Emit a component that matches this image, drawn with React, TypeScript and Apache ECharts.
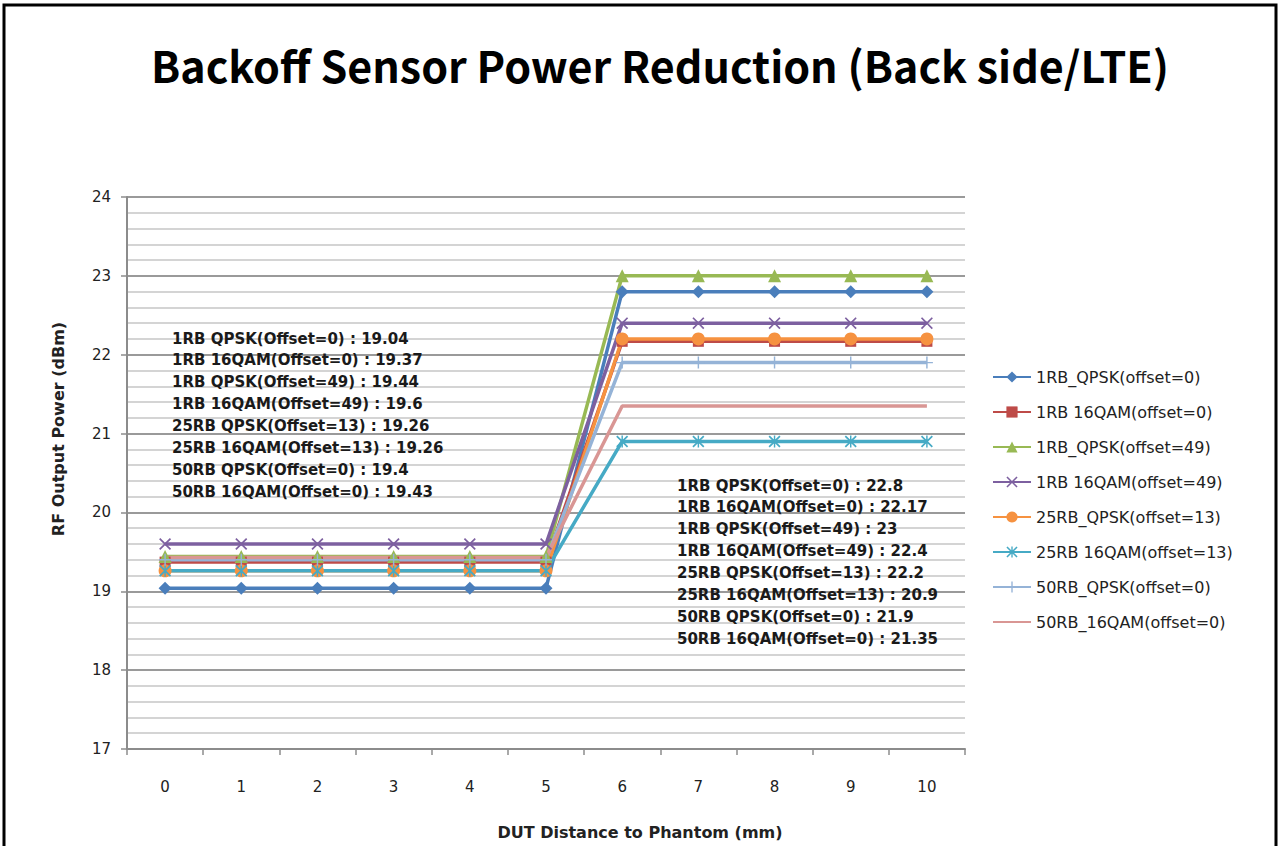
import React, { useEffect, useRef } from "react";
import * as echarts from "echarts";

const categories = ["0", "1", "2", "3", "4", "5", "6", "7", "8", "9", "10"];

const seriesNames = [
  "1RB_QPSK(offset=0)",
  "1RB 16QAM(offset=0)",
  "1RB_QPSK(offset=49)",
  "1RB 16QAM(offset=49)",
  "25RB_QPSK(offset=13)",
  "25RB 16QAM(offset=13)",
  "50RB_QPSK(offset=0)",
  "50RB_16QAM(offset=0)",
];

const annotationNames = [
  "1RB QPSK(Offset=0)",
  "1RB 16QAM(Offset=0)",
  "1RB QPSK(Offset=49)",
  "1RB 16QAM(Offset=49)",
  "25RB QPSK(Offset=13)",
  "25RB 16QAM(Offset=13)",
  "50RB QPSK(Offset=0)",
  "50RB 16QAM(Offset=0)",
];

const lowValues = [19.04, 19.37, 19.44, 19.6, 19.26, 19.26, 19.4, 19.43];
const highValues = [22.8, 22.17, 23, 22.4, 22.2, 20.9, 21.9, 21.35];
const lowCount = 6; // distances 0..5 use low value, 6..10 use high value

const titleText = "Backoff Sensor Power Reduction (Back side/LTE)";
const xAxisTitle = "DUT Distance to Phantom (mm)";
const yAxisTitle = "RF Output Power (dBm)";

const colors = ["#4A7EBB", "#BE4B48", "#98B954", "#7D60A0", "#F69240", "#46AAC5", "#95B3D7", "#D99694"];

const xPath = "path://M0,1 L1,0 L5,4 L9,0 L10,1 L6,5 L10,9 L9,10 L5,6 L1,10 L0,9 L4,5 Z";
const starPath =
  "path://M0,1 L1,0 L5,4 L9,0 L10,1 L6,5 L10,9 L9,10 L5,6 L1,10 L0,9 L4,5 Z M4.4,0 L5.6,0 L5.6,10 L4.4,10 Z";
const plusPath = "path://M4.4,0 L5.6,0 L5.6,4.4 L10,4.4 L10,5.6 L5.6,5.6 L5.6,10 L4.4,10 L4.4,5.6 L0,5.6 L0,4.4 L4.4,4.4 Z";
const symbols = ["diamond", "rect", "triangle", xPath, "circle", starPath, plusPath, "none"];
const symbolSizes = [13, 11, 13, 12, 13, 12, 12, 0];

export default function App() {
  const ref = useRef<HTMLDivElement>(null);
  useEffect(() => {
    if (!ref.current) return;
    const chart = echarts.init(ref.current, undefined, { renderer: "svg" });

    const series = seriesNames.map((name, i) => ({
      name,
      type: "line",
      data: categories.map((_, k) => (k < lowCount ? lowValues[i] : highValues[i])),
      symbol: symbols[i],
      symbolSize: symbolSizes[i],
      showSymbol: symbols[i] !== "none",
      lineStyle: { width: 3.5, color: colors[i] },
      itemStyle: { color: colors[i] },
      z: 3,
    }));

    const annoFont = "bold 15px 'DejaVu Sans', sans-serif";
    const leftAnno = annotationNames.map((n, i) => ({
      type: "text",
      left: 172,
      top: 331 + i * 21.9,
      style: { text: `${n} : ${lowValues[i]}`, font: annoFont, fill: "#1a1a1a" },
      z: 10,
    }));
    const rightAnno = annotationNames.map((n, i) => ({
      type: "text",
      left: 677,
      top: 478 + i * 21.9,
      style: { text: `${n} : ${highValues[i]}`, font: annoFont, fill: "#1a1a1a" },
      z: 10,
    }));

    const legendData = seriesNames.map((name, i) =>
      symbols[i] === "none" ? { name, itemStyle: { opacity: 0 } } : { name }
    );

    const nameFont = "bold 16px 'DejaVu Sans', sans-serif";

    chart.setOption({
      animation: false,
      backgroundColor: "#ffffff",
      color: colors,
      grid: { left: 127, top: 197, right: 317, bottom: 97, containLabel: false },
      legend: {
        orient: "vertical",
        left: 987,
        top: 364,
        itemWidth: 38,
        itemHeight: 14,
        itemGap: 19,
        textStyle: { fontFamily: "'DejaVu Sans', sans-serif", fontSize: 16, color: "#222" },
        data: legendData,
      },
      xAxis: {
        type: "category",
        data: categories,
        boundaryGap: true,
        axisLine: { lineStyle: { color: "#8c8c8c", width: 2 } },
        axisTick: { show: true, length: 6, lineStyle: { color: "#8c8c8c", width: 1.5 } },
        axisLabel: { margin: 30, fontFamily: "'DejaVu Sans', sans-serif", fontSize: 15, color: "#222" },
        splitLine: { show: false },
      },
      yAxis: {
        type: "value",
        min: 17,
        max: 24,
        interval: 1,
        axisLine: { show: true, lineStyle: { color: "#8c8c8c", width: 2 } },
        axisTick: { show: true, length: 6, lineStyle: { color: "#8c8c8c", width: 1.5 } },
        axisLabel: { margin: 16, fontFamily: "'DejaVu Sans', sans-serif", fontSize: 15, color: "#222" },
        splitLine: { show: true, lineStyle: { color: "#9a9a9a", width: 2 } },
        minorTick: { show: false, splitNumber: 5 },
        minorSplitLine: { show: true, lineStyle: { color: "#d4d4d4", width: 2 } },
      },
      graphic: [
        {
          type: "rect",
          shape: { x: 4, y: 5, width: 1272, height: 850 },
          style: { fill: "none", stroke: "#000", lineWidth: 3 },
          z: 0,
        },
        {
          type: "text",
          x: 660,
          y: 64,
          style: {
            text: titleText,
            font: "bold 43px 'Noto Sans CJK KR', sans-serif",
            fill: "#000",
            textAlign: "center",
            textVerticalAlign: "middle",
          },
        },
        {
          type: "text",
          x: 640,
          y: 832,
          style: { text: xAxisTitle, font: nameFont, fill: "#222", textAlign: "center", textVerticalAlign: "middle" },
        },
        {
          type: "text",
          x: 58,
          y: 429,
          rotation: Math.PI / 2,
          style: { text: yAxisTitle, font: nameFont, fill: "#222", textAlign: "center", textVerticalAlign: "middle" },
        },
        ...leftAnno,
        ...rightAnno,
      ],
      series,
    });
    return () => chart.dispose();
  }, []);
  return <div ref={ref} style={{ position: "absolute", left: 0, top: 0, width: 1282, height: 846 }} />;
}
